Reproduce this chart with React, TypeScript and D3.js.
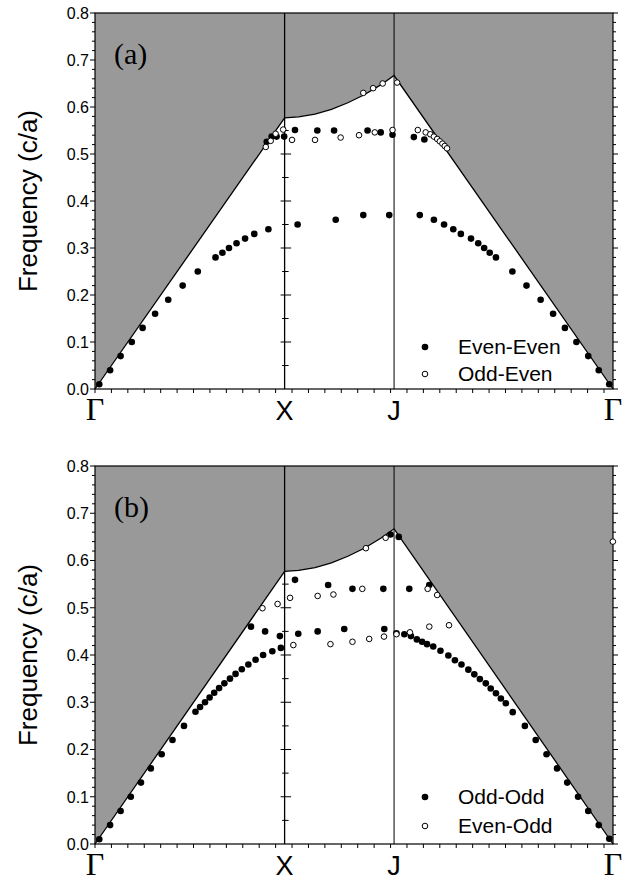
import React from "react";
import * as d3 from "d3";

// Symmetry points along the k path (units of 2π/a)
const kLabels = ["Γ", "X", "J", "Γ"];
const kPositions = [0, 0.5774, 0.9107, 1.5774];

// Light line (boundary of the gray light cone)
const lightK = [0, 0.5774, 0.62, 0.67, 0.72, 0.77, 0.82, 0.87, 0.9107, 1.5774];
const lightF = [0, 0.577, 0.579, 0.585, 0.595, 0.609, 0.626, 0.647, 0.667, 0];

const yTickLabels = [0, 0.1, 0.2, 0.3, 0.4, 0.5, 0.6, 0.7, 0.8];

// Panel (a)
const evenEvenA: [number, number][] = [
  [0.013, 0.01], [0.046, 0.04], [0.078, 0.07], [0.112, 0.10], [0.145, 0.13], [0.183, 0.16],
  [0.223, 0.19], [0.267, 0.22], [0.313, 0.25], [0.367, 0.28], [0.388, 0.29], [0.408, 0.30],
  [0.431, 0.31], [0.457, 0.32], [0.485, 0.33], [0.528, 0.34], [0.617, 0.35], [0.733, 0.36],
  [0.817, 0.37], [0.896, 0.37], [0.989, 0.37], [1.032, 0.36], [1.063, 0.35], [1.091, 0.34],
  [1.114, 0.33], [1.145, 0.32], [1.167, 0.31], [1.185, 0.30], [1.202, 0.29], [1.221, 0.28],
  [1.271, 0.25], [1.314, 0.22], [1.357, 0.19], [1.395, 0.16], [1.431, 0.13], [1.466, 0.10],
  [1.502, 0.07], [1.534, 0.04], [1.566, 0.01],
  [0.523, 0.526], [0.538, 0.537], [0.553, 0.537], [0.576, 0.537], [0.609, 0.551], [0.677, 0.55],
  [0.728, 0.55], [0.830, 0.55], [0.870, 0.546], [0.906, 0.541], [0.971, 0.536], [1.003, 0.531],
];
const oddEvenA: [number, number][] = [
  [0.52, 0.515], [0.535, 0.528], [0.55, 0.543], [0.573, 0.552], [0.600, 0.53], [0.670, 0.53],
  [0.748, 0.535], [0.804, 0.54], [0.852, 0.546], [0.906, 0.551], [0.983, 0.551], [1.007, 0.546],
  [1.021, 0.542], [1.032, 0.537], [1.042, 0.532], [1.050, 0.527], [1.058, 0.522], [1.065, 0.517],
  [1.072, 0.512], [0.817, 0.630], [0.847, 0.640], [0.876, 0.650], [0.920, 0.652],
];

// Panel (b)
const oddOddB: [number, number][] = [
  [0.013, 0.01], [0.046, 0.04], [0.078, 0.07], [0.109, 0.10], [0.140, 0.13], [0.170, 0.16],
  [0.203, 0.19], [0.236, 0.22], [0.271, 0.25], [0.306, 0.28], [0.320, 0.29], [0.335, 0.30],
  [0.349, 0.31], [0.363, 0.32], [0.378, 0.33], [0.394, 0.34], [0.411, 0.35], [0.428, 0.36],
  [0.447, 0.37], [0.467, 0.38], [0.489, 0.39], [0.512, 0.40], [0.540, 0.408], [0.566, 0.415],
  [0.475, 0.46], [0.518, 0.45], [0.563, 0.44], [0.619, 0.445], [0.678, 0.45], [0.759, 0.455],
  [0.881, 0.455], [0.918, 0.446], [0.942, 0.444], [0.962, 0.44], [0.980, 0.433], [0.996, 0.428],
  [1.011, 0.423], [1.030, 0.418], [1.052, 0.409], [1.076, 0.399], [1.096, 0.389], [1.116, 0.380],
  [1.137, 0.369], [1.155, 0.359], [1.172, 0.349], [1.190, 0.340], [1.205, 0.329], [1.221, 0.319],
  [1.236, 0.308], [1.251, 0.298], [1.272, 0.279], [1.309, 0.25], [1.342, 0.22], [1.375, 0.19],
  [1.407, 0.16], [1.438, 0.13], [1.471, 0.10], [1.502, 0.07], [1.534, 0.04], [1.566, 0.011],
  [0.609, 0.559], [0.710, 0.548], [0.784, 0.54], [0.878, 0.54], [0.957, 0.54], [1.018, 0.548],
  [0.900, 0.655], [0.925, 0.650],
];
const evenOddB: [number, number][] = [
  [0.510, 0.499], [0.556, 0.508], [0.594, 0.521], [0.678, 0.525], [0.726, 0.528], [0.814, 0.54],
  [1.013, 0.54], [1.042, 0.527], [0.604, 0.421], [0.717, 0.423], [0.784, 0.428], [0.835, 0.434],
  [0.880, 0.439], [0.918, 0.444], [0.959, 0.448], [1.018, 0.46], [1.078, 0.463], [0.825, 0.626],
  [0.885, 0.648], [1.577, 0.64],
];

const SANS = "'Liberation Sans', Arial, sans-serif";
const SERIF = "'Liberation Serif', 'Times New Roman', serif";

type PanelProps = {
  bottom: number;
  top: number;
  tag: string;
  filled: [number, number][];
  open: [number, number][];
  legend: [string, string];
  legendY: [number, number];
};

function Panel({ bottom, top, tag, filled, open, legend, legendY }: PanelProps) {
  const kEnd = kPositions[kPositions.length - 1];
  const x = d3.scaleLinear().domain([0, kEnd]).range([95, 613]);
  const y = d3.scaleLinear().domain([0, 0.8]).range([bottom, top]);
  const light: [number, number][] = lightK.map((k, i) => [k, lightF[i]]);
  const line = d3.line<[number, number]>().x((d) => x(d[0])).y((d) => y(d[1]));
  const grayPath = line([...light, [kEnd, 0.8], [0, 0.8]]) + "Z";
  const minorY = d3.range(0, 41).map((i) => i * 0.02);
  const xTicks = d3.range(0, 32).map((i) => i * 0.05).filter((v) => v < kEnd - 0.01);
  const xLineTicks = d3.range(1, 12).map((i) => i * 0.05);
  const xX = x(kPositions[1]);
  const xJ = x(kPositions[2]);
  return (
    <g>
      <path d={grayPath} fill="#999999" stroke="none" />
      <path d={line(light) || ""} fill="none" stroke="#000" strokeWidth={1.3} />
      {/* frame */}
      <rect x={x(0)} y={y(0.8)} width={x(kEnd) - x(0)} height={y(0) - y(0.8)} fill="none" stroke="#000" strokeWidth={1.2} />
      <line x1={xX} x2={xX} y1={y(0)} y2={y(0.8)} stroke="#000" strokeWidth={1.3} />
      <line x1={xJ} x2={xJ} y1={y(0)} y2={y(0.8)} stroke="#000" strokeWidth={1} />
      {/* ticks on X line */}
      {xLineTicks.map((v, i) => {
        const major = i % 2 === 1;
        return (
          <line key={"xl" + i} x1={xX - (major ? 4 : 2.5)} x2={xX + (major ? 6.5 : 4)} y1={y(v)} y2={y(v)} stroke="#000" strokeWidth={1} />
        );
      })}
      {/* left / right axis ticks */}
      {minorY.map((v, i) => {
        const major = i % 5 === 0;
        const len = major ? 5 : 3;
        return (
          <g key={"yt" + i}>
            <line x1={x(0) - len} x2={x(0)} y1={y(v)} y2={y(v)} stroke="#000" strokeWidth={1} />
            <line x1={x(kEnd)} x2={x(kEnd) + len} y1={y(v)} y2={y(v)} stroke="#000" strokeWidth={1} />
          </g>
        );
      })}
      {yTickLabels.map((v) => (
        <text key={"yl" + v} x={x(0) - 6} y={y(v) + 5.8} textAnchor="end" fontFamily={SANS} fontSize={16}>
          {d3.format(".1f")(v)}
        </text>
      ))}
      {xTicks.map((v, i) => (
        <line key={"xt" + i} x1={x(v)} x2={x(v)} y1={y(0)} y2={y(0) + 4} stroke="#000" strokeWidth={1} />
      ))}
      {kLabels.map((lab, i) => (
        <text
          key={"kl" + i}
          x={x(kPositions[i])}
          y={y(0) + 31}
          textAnchor="middle"
          fontFamily={lab === "Γ" ? SERIF : SANS}
          fontSize={lab === "Γ" ? 32 : 27}
        >
          {lab}
        </text>
      ))}
      <text
        transform={`translate(37,${(y(0) + y(0.8)) / 2}) rotate(-90)`}
        textAnchor="middle"
        fontFamily={SANS}
        fontSize={26}
      >
        Frequency (c/a)
      </text>
      <text x={114} y={y(0.8) + 51} fontFamily={SERIF} fontSize={30}>
        {tag}
      </text>
      {filled.map((d, i) => (
        <circle key={"f" + i} cx={x(d[0])} cy={y(d[1])} r={3.3} fill="#000" />
      ))}
      {open.map((d, i) => (
        <circle key={"o" + i} cx={x(d[0])} cy={y(d[1])} r={2.8} fill="#fff" stroke="#000" strokeWidth={1} />
      ))}
      {/* legend */}
      <circle cx={425} cy={legendY[0]} r={3.3} fill="#000" />
      <text x={458} y={legendY[0] + 7} fontFamily={SANS} fontSize={21}>
        {legend[0]}
      </text>
      <circle cx={425} cy={legendY[1]} r={2.8} fill="#fff" stroke="#000" strokeWidth={1} />
      <text x={458} y={legendY[1] + 7} fontFamily={SANS} fontSize={21}>
        {legend[1]}
      </text>
    </g>
  );
}

export default function App() {
  return (
    <svg
      width={631}
      height={884}
      style={{ position: "absolute", left: 0, top: 0, background: "#fff" }}
    >
      <rect width={631} height={884} fill="#fff" />
      <Panel
        top={13}
        bottom={389}
        tag="(a)"
        filled={evenEvenA}
        open={oddEvenA}
        legend={["Even-Even", "Odd-Even"]}
        legendY={[347, 374]}
      />
      <Panel
        top={466}
        bottom={844}
        tag="(b)"
        filled={oddOddB}
        open={evenOddB}
        legend={["Odd-Odd", "Even-Odd"]}
        legendY={[797, 826]}
      />
    </svg>
  );
}
